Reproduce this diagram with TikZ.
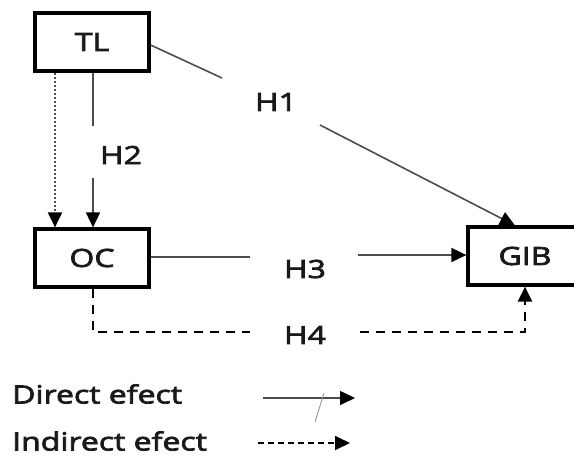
\documentclass[tikz,border=0pt]{standalone}
\usepackage{fontspec}
\setmainfont{Open Sans}
\newfontfamily\lblfont{Open Sans}[FakeStretch=1.28,FakeBold=3]
\usetikzlibrary{arrows.meta}
\begin{document}
\begin{tikzpicture}[x=1pt,y=-1pt,
  box/.style={draw=black,line width=3.2pt,minimum width=114pt,minimum height=58pt,inner sep=0pt,font=\lblfont\fontsize{25}{28}\selectfont,text=black!90},
  lbl/.style={font=\lblfont\fontsize{25}{28}\selectfont,inner sep=0pt,text=black!90},
  conn/.style={draw=black!70,line width=1.6pt},
  tip/.style={-{Triangle[length=15pt,width=14pt,color=black]}},
  dsh/.style={dash pattern=on 9pt off 7pt,line width=2.4pt,draw=black},
  dot/.style={dash pattern=on 2pt off 2pt,line width=2pt,draw=black!70}]
\useasboundingbox (0,0) rectangle (574,459);
\node[box] (TL) at (92,42) {TL};
\node[box] (OC) at (92,258) {OC};
\node[box] (GIB) at (525,256) {GIB};
\node[lbl] (H1) at (276,102) {H1};
\node[lbl] (H2) at (121,155) {H2};
\node[lbl] (H3) at (305,269) {H3};
\node[lbl] (H4) at (305,335) {H4};
% H1
\coordinate (h1a) at (222,78);
\coordinate (h1b) at (320,125);
\draw[conn] (TL.east |- 0,45) -- (h1a);
\draw[conn,tip] (h1b) -- (GIB.north -| 515,0);
% H2
\coordinate (h2a) at (93,126);
\coordinate (h2b) at (93,178);
\draw[conn] (TL.south -| h2a) -- (h2a);
\draw[conn,tip] (h2b) -- (OC.north -| h2b);
% dotted TL->OC
\draw[dot,tip] (TL.south -| 55,0) -- (OC.north -| 55,0);
% H3
\coordinate (h3a) at (250,257);
\coordinate (h3b) at (358,255);
\draw[conn] (OC.east |- h3a) -- (h3a);
\draw[conn,tip] (h3b) -- (GIB.west |- h3b);
% H4
\coordinate (h4a) at (93,332);
\coordinate (h4b) at (250,332);
\coordinate (h4c) at (360,332);
\coordinate (h4d) at (525,332);
\draw[dsh] (OC.south -| h4a) -- (h4a) -- (h4b);
\draw[dsh,tip] (h4c) -- (h4d) -- (GIB.south -| h4d);
% legend
\node[lbl,anchor=west] (d) at (12,394) {Direct efect};
\node[lbl,anchor=west] (i) at (12,441) {Indirect efect};
\coordinate (la) at (263,398);
\coordinate (lb) at (355,398);
\draw[conn,tip] (la) -- (lb);
\coordinate (sa) at (324,393);
\coordinate (sb) at (315,422);
\draw[draw=black!45,line width=0.8pt] (sa) -- (sb);
\coordinate (ia) at (258,443);
\coordinate (ib) at (350,443);
\draw[dsh,dash pattern=on 6pt off 4pt,line width=1.8pt,tip] (ia) -- (ib);
\end{tikzpicture}
\end{document}
